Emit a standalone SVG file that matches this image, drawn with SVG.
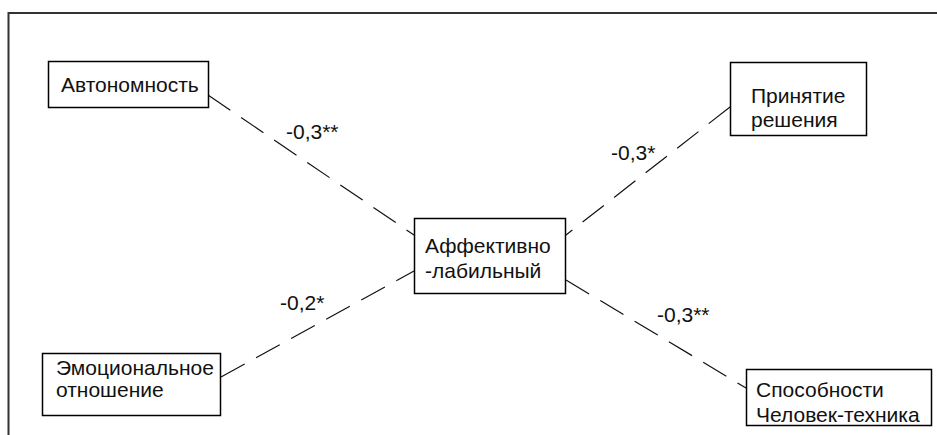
<svg xmlns="http://www.w3.org/2000/svg" width="937" height="435" viewBox="0 0 937 435">
  <style>
    .box { fill: #ffffff; stroke: #000000; stroke-width: 1.5; }
    .lbl { font-family: "Liberation Sans", Arial, sans-serif; font-size: 21px; fill: #111111; }
    .edge { stroke: #111111; stroke-width: 1.2; stroke-dasharray: 27 13; fill: none; }
    .frame { fill: none; stroke: #333333; stroke-width: 2; }
  </style>
  <rect width="937" height="435" fill="#ffffff"/>
  <path class="frame" d="M8.5,435 V13 H937"/>
  <g id="connectors">
    <line class="edge" x1="208" y1="95" x2="414" y2="235"/>
    <line class="edge" x1="221" y1="377" x2="414" y2="271"/>
    <line class="edge" x1="730" y1="107" x2="566" y2="235"/>
    <line class="edge" x1="566" y1="280" x2="746" y2="388"/>
    <text class="lbl" x="286" y="139">-0,3**</text>
    <text class="lbl" x="280" y="310">-0,2*</text>
    <text class="lbl" x="611" y="160">-0,3*</text>
    <text class="lbl" x="657" y="322">-0,3**</text>
  </g>
  <g id="avtonomnost">
    <rect class="box" x="48.5" y="61.5" width="160" height="46"/>
    <text class="lbl" x="61" y="92">Автономность</text>
  </g>
  <g id="affektivno">
    <rect class="box" x="414.5" y="218.5" width="151" height="75"/>
    <text class="lbl" x="425" y="253">Аффективно</text>
    <text class="lbl" x="425" y="278">-лабильный</text>
  </g>
  <g id="prinyatie">
    <rect class="box" x="730.5" y="62.5" width="136" height="73"/>
    <text class="lbl" x="751" y="103">Принятие</text>
    <text class="lbl" x="751" y="127">решения</text>
  </g>
  <g id="emotsionalnoe">
    <rect class="box" x="42.5" y="353.5" width="178" height="62"/>
    <text class="lbl" x="56" y="375">Эмоциональное</text>
    <text class="lbl" x="56" y="397">отношение</text>
  </g>
  <g id="sposobnosti">
    <rect class="box" x="746.5" y="369.5" width="185" height="56"/>
    <text class="lbl" x="756" y="397">Способности</text>
    <text class="lbl" x="756" y="422">Человек-техника</text>
  </g>
</svg>
